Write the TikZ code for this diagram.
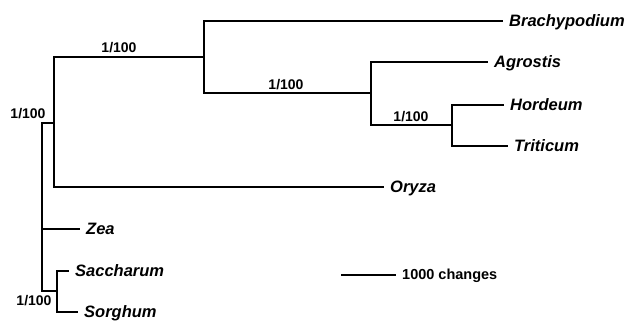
\documentclass[tikz,border=0pt]{standalone}
\usepackage{fontspec}
\setmainfont{Liberation Sans}
\begin{document}
\begin{tikzpicture}[x=1pt,y=-1pt,
  branch/.style={line width=1.7pt,line cap=rect},
  taxon/.style={anchor=west,inner xsep=7pt,inner ysep=0pt,text height=12pt,text depth=0pt,
    font=\fontsize{16.5}{18}\selectfont\bfseries\itshape},
  support/.style={inner sep=0pt,font=\fontsize{14}{16}\selectfont\bfseries},
  scalelabel/.style={anchor=west,inner xsep=6pt,inner ysep=0pt,text height=10pt,text depth=0pt,
    font=\fontsize{14.5}{16}\selectfont\bfseries}]
\useasboundingbox (0,0) rectangle (633,323);

% internal nodes of the tree
\coordinate (R1) at (42,123);
\coordinate (A) at (54,123);
\coordinate (B) at (204,57);
\coordinate (C) at (371,93);
\coordinate (D) at (452,125);
\coordinate (S) at (57,291);

% terminal taxa
\node[taxon] (brachy) at (502,21) {Brachypodium};
\node[taxon] (agros) at (487,62) {Agrostis};
\node[taxon] (hord) at (503,105) {Hordeum};
\node[taxon] (trit) at (507,146) {Triticum};
\node[taxon] (oryza) at (383,187) {Oryza};
\node[taxon] (zea) at (79,229) {Zea};
\node[taxon] (sacch) at (68,271) {Saccharum};
\node[taxon] (sorg) at (77,312) {Sorghum};

% branches
\draw[branch] (R1) -- (A);
\draw[branch] (R1) |- (zea);
\draw[branch] (R1) |- (S);
\draw[branch] (A) |- (B);
\draw[branch] (A) |- (oryza);
\draw[branch] (B) |- (brachy);
\draw[branch] (B) |- (C);
\draw[branch] (C) |- (agros);
\draw[branch] (C) |- (D);
\draw[branch] (D) |- (hord);
\draw[branch] (D) |- (trit);
\draw[branch] (S) |- (sacch);
\draw[branch] (S) |- (sorg);

% support values
\node[support] (s1) at (119,48) {1/100};
\node[support] (s2) at (286,85) {1/100};
\node[support] (s3) at (411,117) {1/100};
\node[support] (s4) at (28,114) {1/100};
\node[support] (s5) at (34,301) {1/100};

% scale bar
\coordinate (sb) at (341,275);
\node[scalelabel] (sbl) at (396,275) {1000 changes};
\draw[branch,line cap=butt] (sb) -- (sbl);
\end{tikzpicture}
\end{document}
